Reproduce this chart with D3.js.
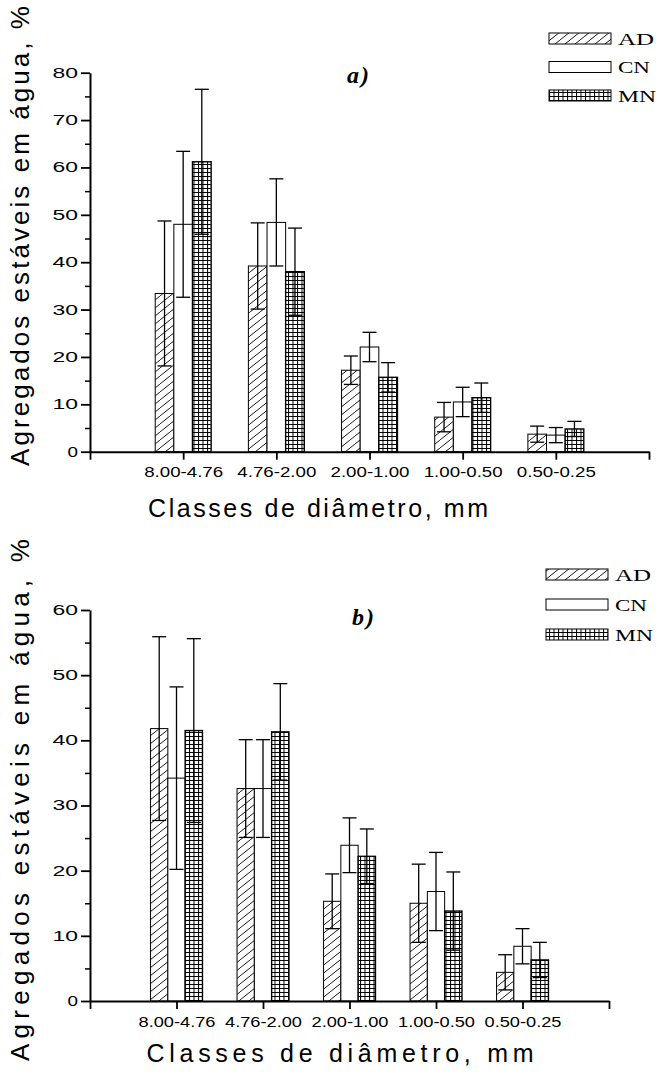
<!DOCTYPE html>
<html lang="en">
<head>
    <script src="https://d3js.org/d3.v7.min.js"></script>
</head>
<style>
    body { margin: 0; background: #fff; }
    text { font-family: "Liberation Sans", Arial, sans-serif; fill: #000; }
    .tick text { font-size: 14px; }
    .xaxis .tick text { font-size: 15px; }
    .legend text { font-family: "Liberation Serif", "Times New Roman", serif; font-size: 16px; }
    .panel { font-family: "Liberation Serif", "Times New Roman", serif; font-weight: bold; font-style: italic; font-size: 24px; letter-spacing: 2px; }
</style>
<body>
<script>
    const w = 658
    const h = 1072

    // categories and series
    const categories = ["8.00-4.76", "4.76-2.00", "2.00-1.00", "1.00-0.50", "0.50-0.25"]
    const series = ["AD", "CN", "MN"]

    // chart a)
    const a_AD = [33.4, 39.2, 17.2, 7.3, 3.7]
    const a_CN = [48.0, 48.4, 22.1, 10.5, 3.5]
    const a_MN = [61.2, 38.0, 15.7, 11.4, 4.8]
    const a_AD_err = [15.3, 9.1, 3.0, 3.1, 1.7]
    const a_CN_err = [15.4, 9.2, 3.1, 3.1, 1.6]
    const a_MN_err = [15.3, 9.2, 3.1, 3.1, 1.6]

    // chart b)
    const b_AD = [41.8, 32.6, 15.3, 15.0, 4.4]
    const b_CN = [34.2, 32.6, 23.9, 16.8, 8.4]
    const b_MN = [41.5, 41.3, 22.2, 13.8, 6.3]
    const b_AD_err = [14.1, 7.5, 4.2, 6.0, 2.7]
    const b_CN_err = [14.0, 7.5, 4.2, 6.0, 2.7]
    const b_MN_err = [14.1, 7.4, 4.2, 6.0, 2.7]

    const yTicksA = [0, 10, 20, 30, 40, 50, 60, 70, 80]
    const yTicksB = [0, 10, 20, 30, 40, 50, 60]

    const svg = d3.select("body")
        .append("svg")
        .attr("width", w)
        .attr("height", h);

    // fill patterns
    const defs = svg.append("defs")
    const hatch = defs.append("pattern")
        .attr("id", "hatch")
        .attr("patternUnits", "userSpaceOnUse")
        .attr("width", 10)
        .attr("height", 8)
    hatch.append("rect").attr("width", 10).attr("height", 8).attr("fill", "#fff")
    hatch.append("path")
        .attr("d", "M-1,8.8 L11,-0.8")
        .attr("stroke", "#000")
        .attr("stroke-width", 0.9)

    const grid = defs.append("pattern")
        .attr("id", "grid")
        .attr("patternUnits", "userSpaceOnUse")
        .attr("width", 4.5)
        .attr("height", 4)
    grid.append("rect").attr("width", 4.5).attr("height", 4).attr("fill", "#fff")
    grid.append("path")
        .attr("d", "M0,0.5 H4.5 M0.5,0 V4")
        .attr("stroke", "#000")
        .attr("stroke-width", 1)

    const fills = {AD: "url(#hatch)", CN: "#fff", MN: "url(#grid)"}
    // stretched look of the original lettering
    const legLen = {AD: 36, CN: 32, MN: 38}

    function drawChart(cfg) {
        const g = svg.append("g")

        const x = d3.scaleLinear().domain([0, 6]).range([90, cfg.xEnd])
        const y = d3.scaleLinear().domain([0, cfg.yMax]).range([cfg.y0, cfg.yTop])
        const bw = x(0.2) - x(0)

        const rows = []
        series.forEach((s, si) => {
            categories.forEach((c, ci) => {
                rows.push({s: s, si: si, ci: ci, v: cfg.vals[si][ci], e: cfg.errs[si][ci]})
            })
        })

        // bars
        g.selectAll("rect.bar")
            .data(rows)
            .enter()
            .append("rect")
            .attr("class", "bar")
            .attr("x", d => x(d.ci + 1 + (d.si - 1.5) * 0.2))
            .attr("y", d => y(d.v))
            .attr("width", bw)
            .attr("height", d => y(0) - y(d.v))
            .attr("fill", d => fills[d.s])
            .attr("stroke", "#000")
            .attr("stroke-width", d => d.s == "MN" ? 1.4 : 1)

        // error bars
        const cap = 7
        const cx = d => x(d.ci + 1 + (d.si - 1) * 0.2)
        const eb = g.selectAll("g.err")
            .data(rows)
            .enter()
            .append("g")
            .attr("stroke", "#000")
            .attr("stroke-width", 1.3)
        eb.append("line")
            .attr("x1", cx)
            .attr("x2", cx)
            .attr("y1", d => y(d.v + d.e))
            .attr("y2", d => y(d.v - d.e))
        eb.append("line")
            .attr("x1", d => cx(d) - cap)
            .attr("x2", d => cx(d) + cap)
            .attr("y1", d => y(d.v + d.e))
            .attr("y2", d => y(d.v + d.e))
        eb.append("line")
            .attr("x1", d => cx(d) - cap)
            .attr("x2", d => cx(d) + cap)
            .attr("y1", d => y(d.v - d.e))
            .attr("y2", d => y(d.v - d.e))

        // y axis
        const minor = d3.range(5, cfg.yMax, 10)
        g.append("g")
            .attr("transform", "translate(90,0)")
            .call(d3.axisLeft(y).tickValues(minor).tickSize(5).tickFormat(""))
            .call(a => a.select(".domain").remove())
            .selectAll("line").attr("stroke-width", 1.5)
        const ya = g.append("g")
            .attr("transform", "translate(90,0)")
            .call(d3.axisLeft(y).tickValues(cfg.yTicks).tickSize(9).tickSizeOuter(0).tickPadding(3))
        ya.select(".domain").attr("stroke-width", 2)
        ya.selectAll("line").attr("stroke-width", 1.8)
        ya.selectAll(".tick text")
            .attr("textLength", d => { const n = String(d).length; return n * 10.5 + (n - 1) * 4.5 })
            .attr("lengthAdjust", "spacingAndGlyphs")

        // x axis
        const xa = g.append("g")
            .attr("class", "xaxis")
            .attr("transform", "translate(0," + cfg.y0 + ")")
            .call(d3.axisBottom(x).tickValues([0, 1, 2, 3, 4, 5, 6]).tickSize(8).tickSizeOuter(0).tickPadding(7)
                .tickFormat(d => categories[d - 1] || ""))
        xa.select(".domain").attr("stroke-width", 2)
        xa.selectAll("line").attr("stroke-width", 1.8)
        xa.selectAll(".tick text")
            .filter(d => d >= 1 && d <= 5)
            .attr("textLength", cfg.xLabLen)
            .attr("lengthAdjust", "spacingAndGlyphs")

        // titles
        g.append("text")
            .attr("transform", "translate(29," + cfg.yTitleMid + ") rotate(-90)")
            .attr("text-anchor", "middle")
            .attr("font-size", 26)
            .attr("textLength", cfg.yTitleLen)
            .attr("lengthAdjust", "spacing")
            .text("Agregados estáveis em água, %")
        g.append("text")
            .attr("x", cfg.xTitleMid)
            .attr("y", cfg.xTitleY)
            .attr("text-anchor", "middle")
            .attr("font-size", 25)
            .attr("textLength", cfg.xTitleLen)
            .attr("lengthAdjust", "spacing")
            .text("Classes de diâmetro, mm")
        g.append("text")
            .attr("class", "panel")
            .attr("x", cfg.panelX)
            .attr("y", cfg.panelY)
            .text(cfg.panel)

        // legend
        const lg = g.append("g").attr("class", "legend")
        series.forEach((s, i) => {
            const ly = cfg.legY + i * cfg.legStep
            lg.append("rect")
                .attr("x", cfg.legX)
                .attr("y", ly)
                .attr("width", 62)
                .attr("height", 11)
                .attr("fill", fills[s])
                .attr("stroke", "#000")
                .attr("stroke-width", 1)
            lg.append("text")
                .attr("x", cfg.legX + 69)
                .attr("y", ly + 11.5)
                .attr("textLength", legLen[s])
                .attr("lengthAdjust", "spacingAndGlyphs")
                .text(s)
        })
    }

    drawChart({
        vals: [a_AD, a_CN, a_MN], errs: [a_AD_err, a_CN_err, a_MN_err],
        yMax: 80, yTicks: yTicksA, y0: 451.7, yTop: 72.7, xEnd: 649,
        yTitleMid: 236, yTitleLen: 460, xTitleMid: 318, xTitleY: 517, xTitleLen: 340, xLabLen: 79,
        panel: "a)", panelX: 347, panelY: 83,
        legX: 549, legY: 33, legStep: 28.5
    })

    drawChart({
        vals: [b_AD, b_CN, b_MN], errs: [b_AD_err, b_CN_err, b_MN_err],
        yMax: 60, yTicks: yTicksB, y0: 1001, yTop: 610, xEnd: 609,
        yTitleMid: 800, yTitleLen: 522, xTitleMid: 340, xTitleY: 1062, xTitleLen: 387, xLabLen: 77,
        panel: "b)", panelX: 352, panelY: 625,
        legX: 546, legY: 569, legStep: 30
    })
</script>
</body>
</html>
